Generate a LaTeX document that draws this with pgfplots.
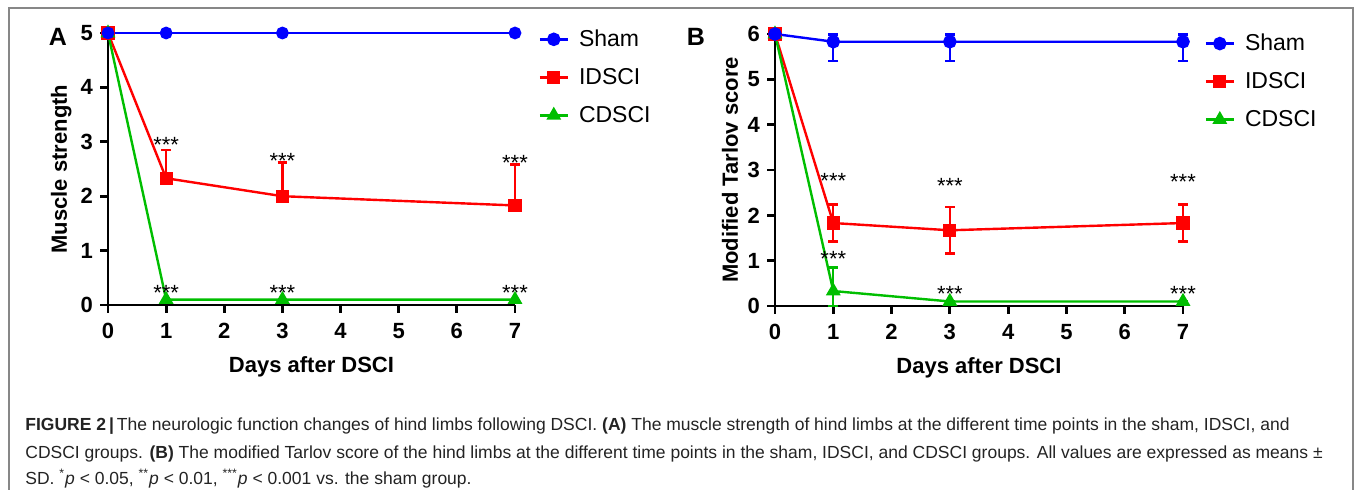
\documentclass[border=0pt]{standalone}
\usepackage{fontspec}
\setmainfont{Liberation Sans}
\usepackage{pgfplots}
\pgfplotsset{compat=1.18}

\definecolor{gpblue}{RGB}{0,0,255}
\definecolor{gpred}{RGB}{255,0,0}
\definecolor{gpgreen}{RGB}{0,190,0}
\definecolor{framegray}{RGB}{135,135,135}
\definecolor{captext}{RGB}{35,35,35}

% one pixel of the reference = 0.5pt
\pgfplotsset{
  panel/.style={
    scale only axis, clip=false,
    axis lines*=left,
    axis line style={line width=1.4pt},
    every tick/.style={black, line width=1.4pt},
    major tick length=4pt, tick align=outside,
    xmin=0, xmax=7, ymin=0,
    xtick={0,...,7},
    tick label style={font=\bfseries\fontsize{11}{13}\selectfont},
    xticklabel style={yshift=-1.5pt},
    /pgf/number format/assume math mode=true,
    label style={font=\bfseries\fontsize{11}{13}\selectfont},
    xlabel={Days after DSCI},
    xlabel style={at={(axis description cs:0.5,-0.228)}, anchor=center},
    legend style={draw=none, fill=none, font=\fontsize{11.5}{13}\selectfont,
      anchor=north west, inner sep=0pt, row sep=9pt, column sep=5pt,
      nodes={inner sep=0pt, text height=8.5pt, text depth=1.5pt}},
    legend cell align=left,
    legend image code/.code={\draw[mark repeat=2,mark phase=2,#1]
      plot coordinates {(0pt,0pt)(7pt,0pt)(14pt,0pt)};},
    error bars/error bar style={line width=1.2pt},
    error bars/error mark options={rotate=90, mark size=2.4pt, line width=1.2pt},
  },
  shamA/.style={gpblue, line width=0.8pt, mark=*, mark size=2.8pt, mark options={solid, fill=gpblue}},
  sham/.style={gpblue, line width=1.2pt, mark=*, mark size=2.8pt, mark options={solid, fill=gpblue}},
  idsci/.style={gpred, line width=1.2pt, mark=square*, mark size=2.7pt, mark options={solid, fill=gpred}},
  cdsci/.style={gpgreen, line width=1.2pt, mark=triangle*, mark size=3.1pt, mark options={solid, fill=gpgreen}},
}
\tikzset{stars/.style={font=\fontsize{11}{13}\selectfont, anchor=base, inner sep=0pt}}

\begin{document}
\begin{tikzpicture}
\path[use as bounding box] (0,0) rectangle (677.5pt,-245pt);
\draw[framegray, line width=0.75pt] (4.5pt,-245pt) -- (4.5pt,-4pt) -- (676.5pt,-4pt) -- (676.5pt,-245pt);

% ---------- panel A
\begin{axis}[panel,
  at={(54pt,-152.5pt)}, anchor=south west,
  width=203.5pt, height=136pt,
  ymax=5, ytick={0,...,5},
  ylabel={Muscle strength},
  ylabel style={at={(axis description cs:-0.115,0.5)}, anchor=center},
  legend style={at={(axis description cs:1.057,1.015)}},
]
\addlegendimage{sham}\addlegendentry{Sham}
\addlegendimage{idsci}\addlegendentry{IDSCI}
\addlegendimage{cdsci}\addlegendentry{CDSCI}

\addplot[idsci, forget plot, error bars/.cd, y dir=plus, y explicit] coordinates {
  (0,5) +- (0,0) (1,2.33) +- (0,0.52) (3,2.0) +- (0,0.62) (7,1.83) +- (0,0.75)};
\addplot[cdsci, forget plot] coordinates {(0,5) (1,0.1) (3,0.1) (7,0.1)};
\addplot[shamA, forget plot] coordinates {(0,5) (1,5) (3,5) (7,5)};

\node[stars] at (axis cs:1,2.81) {***};
\node[stars] at (axis cs:3,2.51) {***};
\node[stars] at (axis cs:7,2.47) {***};
\node[stars] at (axis cs:1,0.08) {***};
\node[stars] at (axis cs:3,0.08) {***};
\node[stars] at (axis cs:7,0.08) {***};
\end{axis}
\node[font=\bfseries\fontsize{12.5}{14}\selectfont] at (29pt,-18.5pt) {A};

% ---------- panel B
\begin{axis}[panel,
  at={(387.5pt,-153pt)}, anchor=south west,
  width=204pt, height=136pt,
  ymax=6, ytick={0,...,6},
  ylabel={Modified Tarlov score},
  ylabel style={at={(axis description cs:-0.110,0.5)}, anchor=center},
  legend style={at={(axis description cs:1.052,1.003)}},
]
\addlegendimage{sham}\addlegendentry{Sham}
\addlegendimage{idsci}\addlegendentry{IDSCI}
\addlegendimage{cdsci}\addlegendentry{CDSCI}

\addplot[idsci, forget plot, error bars/.cd, y dir=both, y explicit] coordinates {
  (0,6) +- (0,0) (1,1.83) +- (0,0.41) (3,1.67) +- (0,0.51) (7,1.83) +- (0,0.41)};
\addplot[cdsci, forget plot, error bars/.cd, y dir=both, y explicit] coordinates {
  (0,6) +- (0,0) (1,0.33) += (0,0.52) -= (0,0.33) (3,0.1) +- (0,0) (7,0.1) +- (0,0)};
\addplot[sham, forget plot, error bars/.cd, y dir=both, y explicit] coordinates {
  (0,6) +- (0,0) (1,5.83) += (0,0.16) -= (0,0.42) (3,5.83) += (0,0.16) -= (0,0.42) (7,5.83) += (0,0.16) -= (0,0.42)};

\node[stars] at (axis cs:1,2.60) {***};
\node[stars] at (axis cs:3,2.49) {***};
\node[stars] at (axis cs:7,2.57) {***};
\node[stars] at (axis cs:1,0.87) {***};
\node[stars] at (axis cs:3,0.11) {***};
\node[stars] at (axis cs:7,0.11) {***};
\end{axis}
\node[font=\bfseries\fontsize{12.5}{14}\selectfont] at (348pt,-18.5pt) {B};

% ---------- caption
\begin{scope}[every node/.style={anchor=base west, inner sep=0pt, text=captext, font=\fontsize{8.75}{10}\selectfont}]
\node at (12.5pt,-215.5pt) {{\bfseries FIGURE 2\,|\,}The neurologic function changes of hind limbs following DSCI. {\bfseries (A)} The muscle strength of hind limbs at the different time points in the sham, IDSCI, and};
\node at (12.5pt,-229.5pt) {CDSCI groups. {\bfseries (B)} The modified Tarlov score of the hind limbs at the different time points in the sham, IDSCI, and CDSCI groups. All values are expressed as means ±};
\node at (12.5pt,-242.5pt) {SD. \textsuperscript{*}\textit{p} < 0.05, \textsuperscript{**}\textit{p} < 0.01, \textsuperscript{***}\textit{p} < 0.001 vs. the sham group.};
\end{scope}
\end{tikzpicture}
\end{document}
